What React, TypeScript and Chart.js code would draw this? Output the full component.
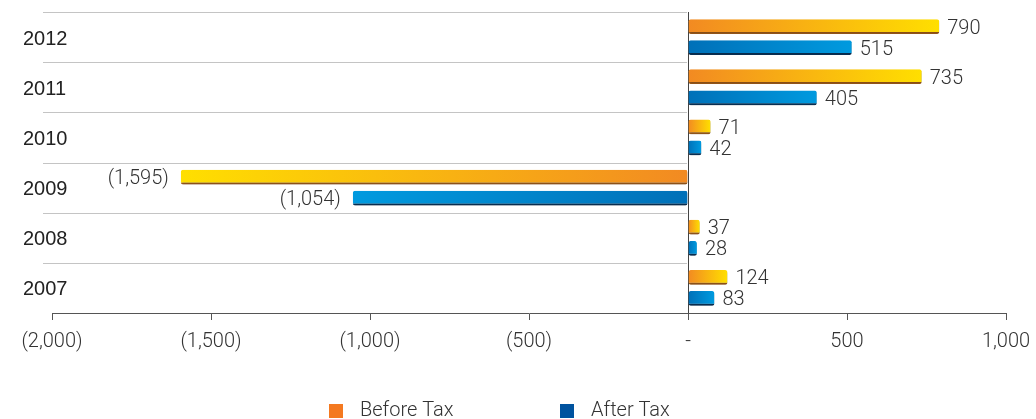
import React, { useEffect, useRef } from "react";
import { Chart, registerables } from "chart.js";

Chart.register(...registerables);

const categories = ["2012", "2011", "2010", "2009", "2008", "2007"];
const beforeTax = [790, 735, 71, -1595, 37, 124];
const afterTax = [515, 405, 42, -1054, 28, 83];
const seriesNames = ["Before Tax", "After Tax"];
const xMin = -2000;
const xMax = 1000;
const xStep = 500;

const LIGHT_FONT = "Roboto";

function fmt(v: number): string {
  if (v === 0) return "-";
  const s = Math.abs(v).toLocaleString("en-US");
  return v < 0 ? `(${s})` : s;
}

function gradientFill(baseColor: string, tipColor: string) {
  return (c: any) => {
    const chart = c.chart;
    const scales = chart.scales;
    if (c.type !== "data" || !chart.chartArea || !scales.x) return baseColor;
    const x0 = scales.x.getPixelForValue(0);
    const x1 = scales.x.getPixelForValue(c.raw);
    if (Math.abs(x1 - x0) < 1) return baseColor;
    const g = chart.ctx.createLinearGradient(x0, 0, x1, 0);
    g.addColorStop(0, baseColor);
    g.addColorStop(1, tipColor);
    return g;
  };
}

const decorPlugin = {
  id: "decor",
  beforeDatasetsDraw(chart: any) {
    const { ctx, scales } = chart;
    const y = scales.y;
    const x = scales.x;
    const zero = x.getPixelForValue(0);
    ctx.save();
    ctx.strokeStyle = "#c4c4c4";
    ctx.lineWidth = 1.2;
    for (let i = 0; i < categories.length; i++) {
      const py = Math.round(y.getPixelForValue(i - 0.5)) + 0.5;
      ctx.beginPath();
      ctx.moveTo(43, py);
      ctx.lineTo(zero - 1, py);
      ctx.stroke();
    }
    // category labels
    ctx.font = "20px 'Liberation Sans'";
    ctx.fillStyle = "#222";
    ctx.textAlign = "left";
    ctx.textBaseline = "middle";
    categories.forEach((c, i) => {
      ctx.fillText(c, 23, y.getPixelForValue(i) + 2);
    });
    ctx.restore();
    // shadow for bars
    ctx.save();
    ctx.shadowColor = "rgba(0,0,0,0.28)";
    ctx.shadowOffsetX = 1;
    ctx.shadowOffsetY = 2;
    ctx.shadowBlur = 2;
  },
  afterDatasetsDraw(chart: any) {
    const { ctx } = chart;
    ctx.restore();
    ctx.save();
    ctx.font = `300 20px ${LIGHT_FONT}`;
    ctx.fillStyle = "#333";
    ctx.textBaseline = "middle";
    chart.data.datasets.forEach((ds: any, di: number) => {
      const meta = chart.getDatasetMeta(di);
      meta.data.forEach((el: any, i: number) => {
        const v = ds.data[i];
        if (v < 0) {
          ctx.textAlign = "right";
          ctx.fillText(fmt(v), el.x - 12, el.y + 2);
        } else {
          ctx.textAlign = "left";
          ctx.fillText(fmt(v), el.x + 8, el.y + 2);
        }
      });
    });
    ctx.restore();
  },
  afterDraw(chart: any) {
    const { ctx } = chart;
    ctx.save();
    const items = [
      { label: seriesNames[0], color: "#F47920", x: 329 },
      { label: seriesNames[1], color: "#00539F", x: 560 },
    ];
    ctx.font = `300 20px ${LIGHT_FONT}`;
    ctx.textBaseline = "middle";
    ctx.textAlign = "left";
    items.forEach((it) => {
      ctx.fillStyle = it.color;
      ctx.fillRect(it.x, 404, 14, 14);
      ctx.fillStyle = "#333";
      ctx.fillText(it.label, it.x + 31, 411);
    });
    ctx.restore();
  },
};

export default function App() {
  const ref = useRef<HTMLCanvasElement | null>(null);

  useEffect(() => {
    if (!ref.current) return;
    const common = {
      borderWidth: { top: 0, right: 0, bottom: 2, left: 0 },
      borderSkipped: false,
      borderRadius: 2,
      categoryPercentage: 0.84,
      barPercentage: 0.7,
    };
    const chart = new Chart(ref.current, {
      type: "bar",
      data: {
        labels: categories,
        datasets: [
          {
            label: seriesNames[0],
            data: beforeTax,
            backgroundColor: gradientFill("#F28A22", "#FFDF00"),
            borderColor: "#B86A1E",
            ...common,
          } as any,
          {
            label: seriesNames[1],
            data: afterTax,
            backgroundColor: gradientFill("#0070B8", "#009ADF"),
            borderColor: "#0B3A66",
            ...common,
          } as any,
        ],
      },
      options: {
        indexAxis: "y",
        animation: false,
        responsive: false,
        devicePixelRatio: 1,
        layout: { padding: { left: 23, right: 30, top: 12, bottom: 55 } },
        plugins: {
          legend: { display: false },
          tooltip: { enabled: false },
        },
        scales: {
          x: {
            min: xMin,
            max: xMax,
            ticks: {
              stepSize: xStep,
              callback: (v: any) => fmt(Number(v)),
              color: "#333",
              font: { family: LIGHT_FONT, size: 20, weight: 300 as any, lineHeight: 2 },
              padding: 2,
              maxRotation: 0,
            },
            grid: {
              color: (c: any) => (c.tick && c.tick.value === 0 ? "#444" : "rgba(0,0,0,0)"),
              tickColor: "#555",
              tickLength: 7,
              lineWidth: 1,
            },
            border: { display: true, color: "#555", width: 1 },
          },
          y: {
            afterFit: (s: any) => {
              s.width = 29;
            },
            ticks: { display: false },
            grid: { display: false, drawTicks: false },
            border: { display: false },
          },
        },
      },
      plugins: [decorPlugin],
    });
    return () => chart.destroy();
  }, []);

  return (
    <div style={{ position: "absolute", left: 0, top: 0, width: 1036, height: 419, background: "#fff" }}>
      <canvas ref={ref} width={1036} height={419} style={{ width: 1036, height: 419, display: "block" }} />
    </div>
  );
}
